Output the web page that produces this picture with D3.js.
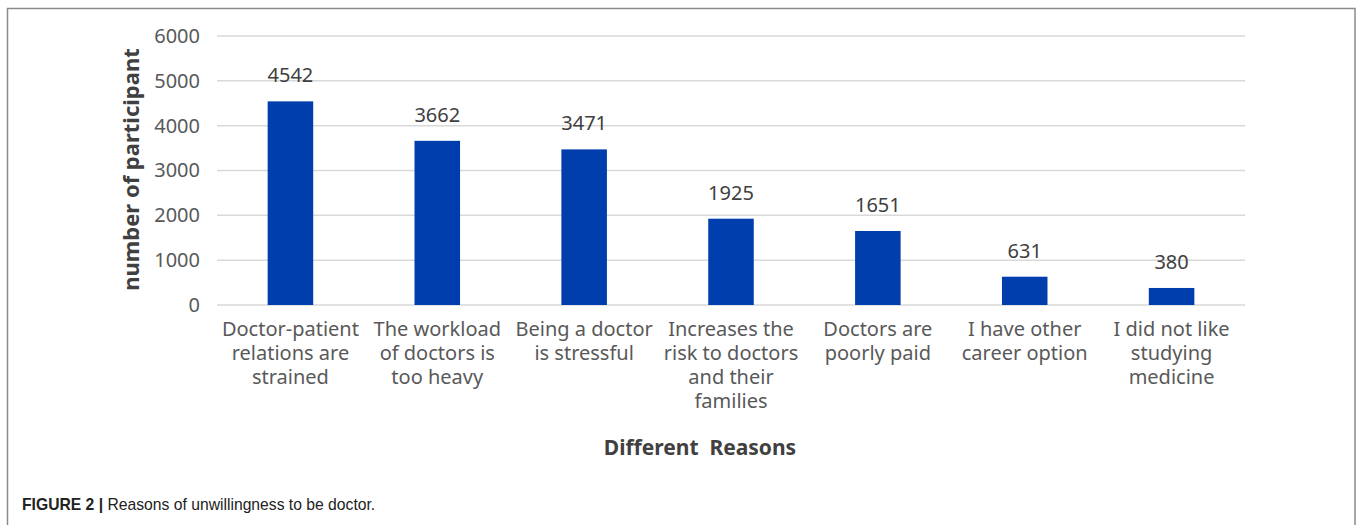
<!DOCTYPE html>
<html>
<head>
<meta charset="utf-8">
<script src="https://cdn.jsdelivr.net/npm/d3@7"></script>
<style>
  body { margin: 0; background: #fff; }
  svg { display: block; }
</style>
</head>
<body>
<svg id="chart" width="1360" height="525"></svg>
<script>
// Données : raisons (lignes des étiquettes) et nombre de participants
const reasons = [
  ["Doctor-patient", "relations are", "strained"],
  ["The workload", "of doctors is", "too heavy"],
  ["Being a doctor", "is stressful"],
  ["Increases the", "risk to doctors", "and their", "families"],
  ["Doctors are", "poorly paid"],
  ["I have other", "career option"],
  ["I did not like", "studying", "medicine"],
];
const counts = [4542, 3662, 3471, 1925, 1651, 631, 380];
const yTicks = [0, 1000, 2000, 3000, 4000, 5000, 6000];

const svg = d3.select("#chart");
const width = 1360;
const height = 525;
const font = "'Noto Sans', 'DejaVu Sans', sans-serif";

// cadre de la figure (sans bord inférieur)
svg.append("path")
  .attr("d", `M7.5,${height} V8.5 H1355 V${height}`)
  .attr("fill", "none")
  .attr("stroke", "#8a8a8a")
  .attr("stroke-width", 1.5);

const margin = { top: 36, left: 217 };
const innerWidth = 1245 - margin.left;
const innerHeight = 305 - margin.top;

const g = svg.append("g")
  .attr("transform", `translate(${margin.left}, ${margin.top})`);

const idx = d3.range(counts.length);

// Échelle X : une bande par raison
const x = d3.scaleBand().domain(idx).range([0, innerWidth]).padding(0);
const barW = x.bandwidth() * 0.31;

// Échelle Y
const y = d3.scaleLinear().domain([0, 6000]).range([innerHeight, 0]);

// Grille horizontale
g.selectAll("line.grid")
  .data(yTicks)
  .enter()
  .append("line")
  .attr("class", "grid")
  .attr("x1", 0)
  .attr("x2", innerWidth)
  .attr("y1", (d) => y(d))
  .attr("y2", (d) => y(d))
  .attr("stroke", "#d9d9d9")
  .attr("stroke-width", 1.5);

// Axe Y (étiquettes seulement)
const yAxis = g.append("g")
  .call(d3.axisLeft(y).tickValues(yTicks).tickFormat(d3.format("d")).tickSize(0).tickPadding(17));
yAxis.select(".domain").remove();
yAxis.selectAll("text")
  .attr("font-family", font)
  .attr("font-size", 20)
  .attr("fill", "#595959");

// Barres
g.selectAll("rect.bar")
  .data(counts)
  .enter()
  .append("rect")
  .attr("class", "bar")
  .attr("x", (d, i) => x(i) + (x.bandwidth() - barW) / 2)
  .attr("y", (d) => y(d))
  .attr("width", barW)
  .attr("height", (d) => innerHeight - y(d))
  .attr("fill", "#003dad");

// Valeurs au-dessus des barres
g.selectAll("text.val")
  .data(counts)
  .enter()
  .append("text")
  .attr("class", "val")
  .attr("x", (d, i) => x(i) + x.bandwidth() / 2)
  .attr("y", (d) => y(d) - 19)
  .attr("text-anchor", "middle")
  .attr("font-family", font)
  .attr("font-size", 20)
  .attr("fill", "#404040")
  .text((d) => d);

// Étiquettes de catégories sur plusieurs lignes
const labels = g.selectAll("text.cat")
  .data(reasons)
  .enter()
  .append("text")
  .attr("class", "cat")
  .attr("text-anchor", "middle")
  .attr("font-family", font)
  .attr("font-size", 20)
  .attr("fill", "#595959");
labels.each(function (lines, i) {
  d3.select(this).selectAll("tspan")
    .data(lines)
    .enter()
    .append("tspan")
    .attr("x", x(i) + x.bandwidth() / 2)
    .attr("y", (d, k) => innerHeight + 31 + k * 24)
    .text((d) => d);
});

// Titre Y
g.append("text")
  .attr("transform", "rotate(-90)")
  .attr("x", -innerHeight / 2 + 1)
  .attr("y", -78)
  .attr("text-anchor", "middle")
  .attr("font-family", font)
  .attr("font-size", 22)
  .attr("font-weight", "bold")
  .attr("fill", "#404040")
  .text("number of participant");

// Titre X
svg.append("text")
  .attr("x", 700)
  .attr("y", 455)
  .attr("text-anchor", "middle")
  .attr("font-family", font)
  .attr("font-size", 21)
  .attr("font-weight", "bold")
  .attr("fill", "#404040")
  .attr("xml:space", "preserve")
  .style("white-space", "pre")
  .text("Different  Reasons");

// Légende de la figure
const cap = svg.append("text")
  .attr("x", 22)
  .attr("y", 510)
  .attr("font-family", "'Liberation Sans', Arial, sans-serif")
  .attr("font-size", 15.7)
  .attr("fill", "#222");
cap.append("tspan").attr("font-weight", "bold").text("FIGURE 2 | ");
cap.append("tspan").text("Reasons of unwillingness to be doctor.");
</script>
</body>
</html>
